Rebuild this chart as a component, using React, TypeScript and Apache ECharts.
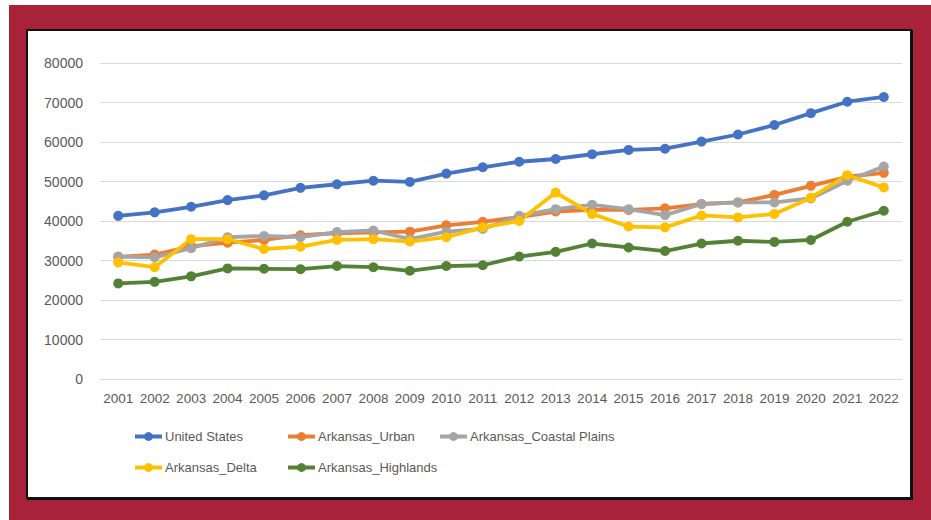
import React, { useEffect, useRef } from "react";
import * as echarts from "echarts";

const years = ["2001", "2002", "2003", "2004", "2005", "2006", "2007", "2008", "2009", "2010", "2011", "2012", "2013", "2014", "2015", "2016", "2017", "2018", "2019", "2020", "2021", "2022"];
const unitedStates = [41300, 42200, 43600, 45300, 46500, 48400, 49300, 50200, 49900, 52000, 53600, 55000, 55700, 56900, 58000, 58300, 60100, 61900, 64300, 67300, 70200, 71400];
const arkansasUrban = [30900, 31500, 33600, 34500, 35200, 36400, 36900, 37100, 37300, 38900, 39800, 41000, 42400, 42800, 42800, 43200, 44300, 44700, 46600, 48900, 51200, 52200];
const arkansasCoastal = [31000, 30800, 33100, 35900, 36200, 35900, 37200, 37600, 35400, 37300, 38000, 41300, 43000, 44100, 43000, 41500, 44300, 44700, 44700, 45700, 50200, 53800];
const arkansasDelta = [29500, 28300, 35400, 35400, 32900, 33500, 35200, 35400, 34800, 35900, 38400, 40000, 47200, 41800, 38600, 38400, 41400, 40900, 41800, 45900, 51600, 48500];
const arkansasHighlands = [24200, 24600, 26000, 28000, 27900, 27800, 28600, 28300, 27400, 28600, 28800, 31000, 32200, 34300, 33300, 32400, 34300, 35000, 34700, 35200, 39800, 42600];

const seriesNames = ["United States", "Arkansas_Urban", "Arkansas_Coastal Plains", "Arkansas_Delta", "Arkansas_Highlands"];
const seriesData = [unitedStates, arkansasUrban, arkansasCoastal, arkansasDelta, arkansasHighlands];
const colors = ["#4472C4", "#ED7D31", "#A5A5A5", "#FFC000", "#548235"];

const FONT = "'Liberation Sans', Arial, sans-serif";

export default function App() {
  const ref = useRef<HTMLDivElement>(null);
  useEffect(() => {
    const chart = echarts.init(ref.current!, null, { renderer: "svg" });
    const legendPos = [
      { left: 133, top: 430 },
      { left: 286, top: 430 },
      { left: 438, top: 430 },
      { left: 133, top: 461 },
      { left: 286, top: 461 },
    ];
    chart.setOption({
      animation: false,
      color: colors,
      textStyle: { fontFamily: FONT },
      grid: { left: 100, right: 29, top: 63, bottom: 141, containLabel: false },
      legend: seriesNames.map((n, i) => ({
        data: [n],
        left: legendPos[i].left,
        top: legendPos[i].top,
        padding: 0,
        itemWidth: 27,
        itemHeight: 11,
        lineStyle: { width: 4 },
        textStyle: { color: "#595959", fontSize: 13, fontFamily: FONT, padding: [0, 0, 0, -2] },
      })),
      xAxis: {
        type: "category",
        data: years,
        boundaryGap: true,
        axisLine: { show: true, lineStyle: { color: "#D9D9D9", width: 1 } },
        axisTick: { show: false },
        axisLabel: { color: "#595959", fontSize: 13.5, margin: 12, interval: 0, fontFamily: FONT },
      },
      yAxis: {
        type: "value",
        min: 0,
        max: 80000,
        interval: 10000,
        axisLine: { show: false },
        axisTick: { show: false },
        splitLine: { lineStyle: { color: "#D9D9D9", width: 1 } },
        axisLabel: { color: "#595959", fontSize: 14, margin: 17, fontFamily: FONT, formatter: (v: number) => String(v) },
      },
      series: seriesNames.map((n, i) => ({
        name: n,
        type: "line",
        data: seriesData[i],
        symbol: "circle",
        symbolSize: 10,
        lineStyle: { width: 3.8, color: colors[i] },
        itemStyle: { color: colors[i] },
      })),
    });
    return () => chart.dispose();
  }, []);
  return (
    <div style={{ position: "fixed", left: 0, top: 0, width: 931, height: 520, background: "#fff" }}>
      <div style={{ position: "absolute", left: 9, top: 5, right: 0, bottom: 0, background: "#A8233A" }} />
      <div style={{ position: "absolute", left: 26, top: 29, width: 882, height: 466, background: "#fff", border: "2px solid #111", boxShadow: "1px 1px 0 #000" }} />
      <div ref={ref} style={{ position: "absolute", left: 0, top: 0, width: 931, height: 520 }} />
    </div>
  );
}
